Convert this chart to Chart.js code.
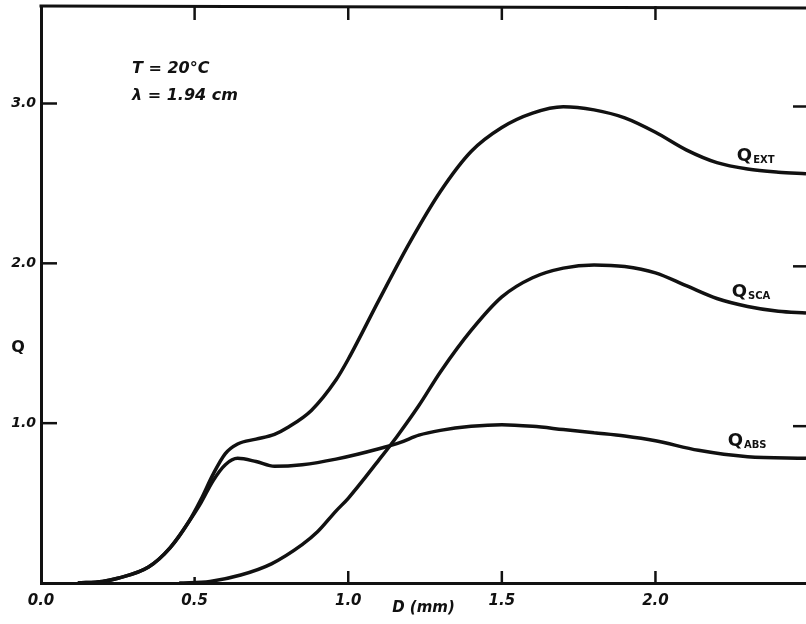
<!DOCTYPE html>
<html>
<head>
<meta charset="utf-8">
<script src="https://cdn.jsdelivr.net/npm/chart.js@4/dist/chart.umd.min.js"></script>
<style>
  html, body { margin: 0; padding: 0; background: #fff; }
  #wrap { width: 806px; height: 624px; position: relative; }
</style>
</head>
<body>
<div id="wrap"><canvas id="c" width="806" height="624"></canvas></div>
<script>
// Efficiency factors Q versus drop diameter D (mm), T = 20 °C, λ = 1.94 cm
const diamExt = [0.12, 0.20, 0.25, 0.35, 0.42, 0.48, 0.52, 0.56, 0.60, 0.64, 0.70, 0.76, 0.80, 0.88, 0.96, 1.00, 1.10, 1.20, 1.30, 1.40, 1.50, 1.60, 1.70, 1.80, 1.90, 2.00, 2.10, 2.20, 2.30, 2.40, 2.49];
const qExt    = [0.00, 0.01, 0.03, 0.10, 0.22, 0.38, 0.52, 0.68, 0.81, 0.87, 0.90, 0.93, 0.97, 1.08, 1.27, 1.40, 1.77, 2.13, 2.45, 2.70, 2.85, 2.94, 2.98, 2.96, 2.91, 2.82, 2.71, 2.63, 2.59, 2.57, 2.56];

const diamAbs = [0.12, 0.20, 0.25, 0.35, 0.42, 0.48, 0.52, 0.56, 0.60, 0.64, 0.70, 0.76, 0.85, 0.96, 1.10, 1.17, 1.23, 1.30, 1.40, 1.50, 1.60, 1.70, 1.80, 1.90, 2.00, 2.14, 2.30, 2.49];
const qAbs    = [0.00, 0.01, 0.03, 0.10, 0.22, 0.38, 0.50, 0.64, 0.74, 0.78, 0.76, 0.73, 0.74, 0.775, 0.84, 0.88, 0.925, 0.955, 0.98, 0.99, 0.98, 0.96, 0.94, 0.92, 0.89, 0.83, 0.79, 0.78];

const diamSca = [0.45, 0.55, 0.65, 0.75, 0.85, 0.90, 0.96, 1.00, 1.10, 1.16, 1.23, 1.30, 1.40, 1.50, 1.60, 1.70, 1.80, 1.90, 2.00, 2.10, 2.20, 2.30, 2.40, 2.49];
const qSca    = [0.00, 0.01, 0.05, 0.12, 0.24, 0.32, 0.45, 0.53, 0.77, 0.92, 1.11, 1.32, 1.58, 1.79, 1.91, 1.97, 1.99, 1.98, 1.94, 1.86, 1.78, 1.73, 1.70, 1.69];

const xTickValues = [0, 0.5, 1.0, 1.5, 2.0];
const xTickLabels = ['0.0', '0.5', '1.0', '1.5', '2.0'];
const yTickValues = [1, 2, 3];
const yTickLabels = ['1.0', '2.0', '3.0'];

const seriesNames = ['EXT', 'SCA', 'ABS'];

const toPoints = (xs, ys) => xs.map((x, i) => ({ x: x, y: ys[i] }));

const INK = '#111';
const HAND = "'DejaVu Sans', sans-serif";

// curve-name labels, placed in data units
const curveLabels = [
  { sub: seriesNames[0], x: 2.265, y: 2.64 },
  { sub: seriesNames[1], x: 2.248, y: 1.79 },
  { sub: seriesNames[2], x: 2.235, y: 0.86 }
];

const decorations = {
  id: 'decorations',
  afterDatasetsDraw(chart) {
    const { ctx, chartArea: a, scales: { x, y } } = chart;
    ctx.save();
    ctx.strokeStyle = INK;
    ctx.fillStyle = INK;
    ctx.lineCap = 'butt';

    // top frame line
    ctx.lineWidth = 3;
    ctx.beginPath();
    ctx.moveTo(a.left - 1.5, a.top);
    ctx.lineTo(a.right, a.top + 2);
    ctx.stroke();

    // inward tick marks
    ctx.lineWidth = 2.5;
    xTickValues.forEach(v => {
      if (v === 0) return;
      const px = x.getPixelForValue(v);
      ctx.beginPath(); ctx.moveTo(px, a.top); ctx.lineTo(px, a.top + 14); ctx.stroke();
      const len = v === 0.5 ? 6 : 12;
      ctx.beginPath(); ctx.moveTo(px, a.bottom); ctx.lineTo(px, a.bottom - len); ctx.stroke();
    });
    yTickValues.forEach(v => {
      const py = y.getPixelForValue(v);
      ctx.beginPath(); ctx.moveTo(a.left, py); ctx.lineTo(a.left + 16, py); ctx.stroke();
      ctx.beginPath(); ctx.moveTo(a.right, py + 3); ctx.lineTo(a.right - 13, py + 3); ctx.stroke();
    });

    // condition notes
    ctx.textBaseline = 'alphabetic';
    ctx.textAlign = 'left';
    ctx.font = `bold italic 16px ${HAND}`;
    ctx.fillText('T = 20°C', 132, 73);
    ctx.fillText('λ = 1.94 cm', 132, 100);

    // curve names
    curveLabels.forEach(l => {
      const px = x.getPixelForValue(l.x);
      const py = y.getPixelForValue(l.y);
      ctx.font = `bold 18px ${HAND}`;
      ctx.fillText('Q', px, py);
      const w = ctx.measureText('Q').width;
      ctx.font = `bold 10px ${HAND}`;
      ctx.fillText(l.sub, px + w + 1, py + 2);
    });

    // axis titles
    ctx.font = `bold 16px ${HAND}`;
    ctx.textAlign = 'center';
    ctx.textBaseline = 'middle';
    ctx.fillText('Q', 18, 348);
    ctx.font = `bold italic 15px ${HAND}`;
    ctx.fillText('D (mm)', (a.left + a.right) / 2, 608);
    ctx.restore();
  }
};

const lineStyle = {
  borderColor: INK,
  borderWidth: 3.5,
  pointRadius: 0,
  fill: false,
  cubicInterpolationMode: 'monotone'
};

new Chart(document.getElementById('c'), {
  type: 'line',
  data: {
    datasets: [
      Object.assign({ label: 'Q ' + seriesNames[0], data: toPoints(diamExt, qExt) }, lineStyle),
      Object.assign({ label: 'Q ' + seriesNames[1], data: toPoints(diamSca, qSca) }, lineStyle),
      Object.assign({ label: 'Q ' + seriesNames[2], data: toPoints(diamAbs, qAbs) }, lineStyle)
    ]
  },
  options: {
    responsive: false,
    animation: false,
    layout: { padding: { top: 6, right: 0, left: 0, bottom: 0 } },
    plugins: { legend: { display: false }, tooltip: { enabled: false } },
    scales: {
      x: {
        type: 'linear',
        min: 0,
        max: 2.49,
        afterBuildTicks: s => { s.ticks = xTickValues.map(v => ({ value: v })); },
        afterFit: s => { s.height = 41; },
        grid: { display: false },
        border: { display: true, color: INK, width: 3 },
        ticks: {
          color: INK,
          padding: 1,
          maxRotation: 0,
          font: { family: HAND, size: 15, weight: 'bold', style: 'italic' },
          callback: v => xTickLabels[xTickValues.indexOf(v)] ?? ''
        }
      },
      y: {
        type: 'linear',
        min: 0,
        max: 3.61,
        afterBuildTicks: s => { s.ticks = yTickValues.map(v => ({ value: v })); },
        afterFit: s => { s.width = 41; },
        grid: { display: false },
        border: { display: true, color: INK, width: 3 },
        ticks: {
          color: INK,
          padding: -3,
          font: { family: HAND, size: 14, weight: 'bold', style: 'italic' },
          callback: v => yTickLabels[yTickValues.indexOf(v)] ?? ''
        }
      }
    }
  },
  plugins: [decorations]
});
</script>
</body>
</html>
